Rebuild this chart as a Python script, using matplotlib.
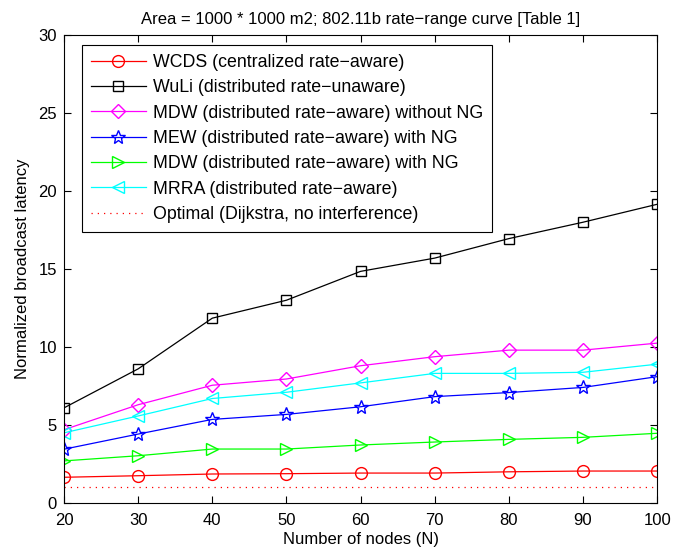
import matplotlib
matplotlib.use("Agg")
import matplotlib.pyplot as plt

plt.rcParams['font.family'] = ['Liberation Sans', 'DejaVu Sans']

nodes = [20, 30, 40, 50, 60, 70, 80, 90, 100]
wcds = [1.65, 1.75, 1.86, 1.88, 1.92, 1.92, 2.0, 2.05, 2.05]
wuli = [6.1, 8.6, 11.85, 13.0, 14.85, 15.7, 16.95, 18.0, 19.15]
mdw_nong = [4.7, 6.3, 7.55, 7.95, 8.8, 9.38, 9.8, 9.8, 10.25]
mew_ng = [3.45, 4.42, 5.36, 5.68, 6.17, 6.82, 7.08, 7.41, 8.1]
mdw_ng = [2.7, 3.03, 3.46, 3.46, 3.72, 3.91, 4.08, 4.21, 4.47]
mrra = [4.5, 5.58, 6.7, 7.1, 7.7, 8.31, 8.31, 8.38, 8.9]
optimal = [1.0] * len(nodes)

labels = ["WCDS (centralized rate\u2212aware)",
          "WuLi (distributed rate\u2212unaware)",
          "MDW (distributed rate\u2212aware) without NG",
          "MEW (distributed rate\u2212aware) with NG",
          "MDW (distributed rate\u2212aware) with NG",
          "MRRA (distributed rate\u2212aware)",
          "Optimal (Dijkstra, no interference)"]

fig = plt.figure(figsize=(6.74, 5.56), dpi=100)
ax = fig.add_axes([0.095, 0.0953, 0.88, 0.8417])

lw = 0.9
ax.plot(nodes, wcds, color='#ff0000', marker='o', ms=8.5, mfc='none', lw=lw, label=labels[0])
ax.plot(nodes, wuli, color='black', marker='s', ms=6.5, mfc='none', lw=lw, label=labels[1])
ax.plot(nodes, mdw_nong, color='#ff00ff', marker='D', ms=7, mfc='none', lw=lw, label=labels[2])
ax.plot(nodes, mew_ng, color='#0000ff', marker='*', ms=10, mfc='none', lw=lw, label=labels[3])
ax.plot(nodes, mdw_ng, color='#00ff00', marker='>', ms=9, mfc='none', lw=lw, label=labels[4])
ax.plot(nodes, mrra, color='#00ffff', marker='<', ms=9, mfc='none', lw=lw, label=labels[5])
ax.plot(nodes, optimal, color='#ff0000', ls=(0, (1, 4)), lw=lw, label=labels[6])

ax.set_xlim(20, 100)
ax.set_ylim(0, 30)
ax.set_xticks(nodes)
ax.set_yticks(range(0, 31, 5))
ax.tick_params(direction='in', top=True, right=True, labelsize=12, length=5)
ax.tick_params(axis='x', pad=7)
ax.tick_params(axis='y', pad=5)
ax.set_xlabel("Number of nodes (N)", fontsize=12, labelpad=3)
ax.set_ylabel("Normalized broadcast latency", fontsize=12, labelpad=6)
ax.set_title("Area = 1000 * 1000 m2; 802.11b rate\u2212range curve [Table 1]", fontsize=12, pad=8)

leg = ax.legend(loc='upper left', bbox_to_anchor=(18 / 593, 1 - 10 / 468), borderaxespad=0,
                fontsize=12.8, fancybox=False, edgecolor='black', framealpha=1,
                labelspacing=0.47, handlelength=3.1, handletextpad=0.4, borderpad=0.5)
leg.get_frame().set_linewidth(0.8)

fig.savefig("out.png", dpi=100)
